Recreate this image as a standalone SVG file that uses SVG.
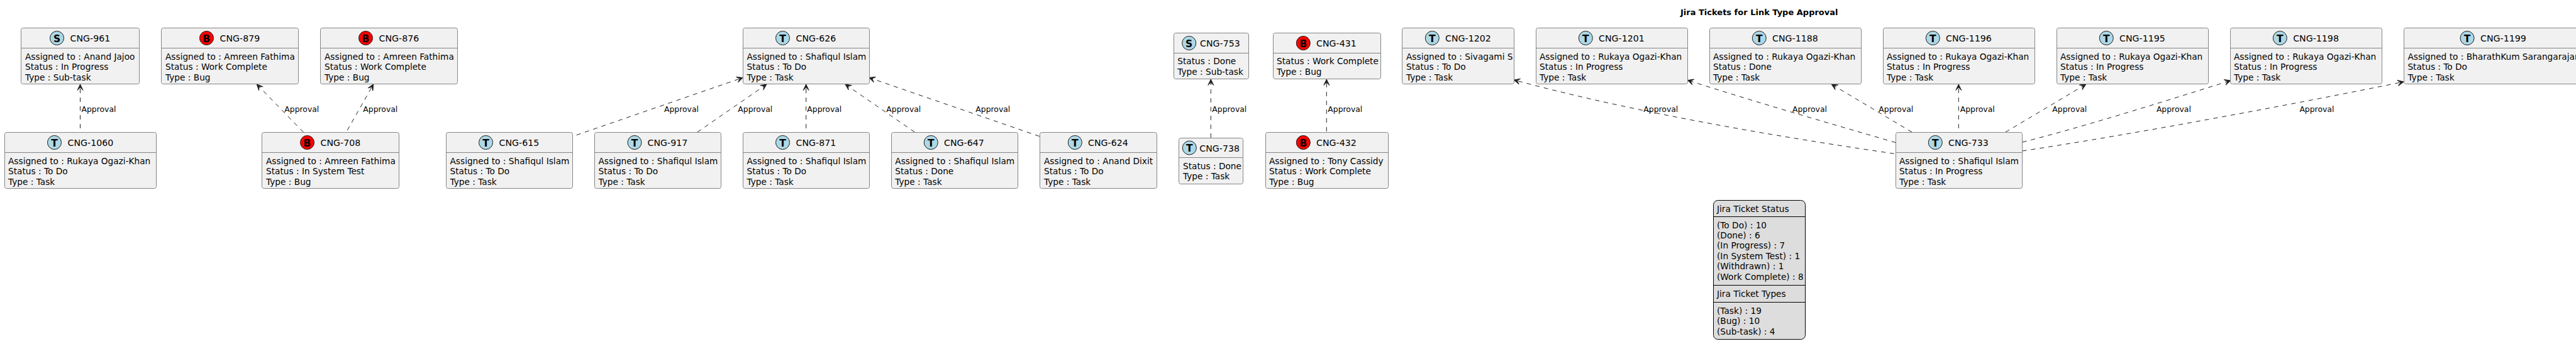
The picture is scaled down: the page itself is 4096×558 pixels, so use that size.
<svg xmlns="http://www.w3.org/2000/svg" width="4096" height="558" viewBox="0 0 4096 558">
<style>
text{font-family:"DejaVu Sans",sans-serif;fill:#000}
.b{fill:#F1F1F1;stroke:#858585;stroke-width:1}
.d{stroke:#858585;stroke-width:1}
.h{font-size:14.2px}
.t{font-size:13.7px}
.l{font-size:12.4px}
.bl{fill:#ADD8E6;stroke:#181818;stroke-width:1}
.rd{fill:#FF0000;stroke:#181818;stroke-width:1}
.g{font-size:15.5px;font-weight:bold;text-anchor:middle}
.c{fill:none;stroke:#222;stroke-width:1;stroke-dasharray:7 7;marker-end:url(#a)}
.lg{fill:#DDDDDD;stroke:#000;stroke-width:1}
.ld{stroke:#000;stroke-width:1}
</style>
<defs>
<marker id="a" markerUnits="userSpaceOnUse" markerWidth="16" markerHeight="14" refX="13" refY="7" orient="auto" overflow="visible">
<path d="M13,7 L3.5,2.5 L8,7 L3.5,11.5 Z" fill="#222" stroke="#222" stroke-width="1"/>
</marker>
</defs>
<text x="2672" y="24" font-size="13" font-weight="bold">Jira Tickets for Link Type Approval</text>
<g id="connectors">
<path class="c" d="M127.5,204 L127.5,134"/>
<path class="c" d="M482.3,210 L408.3,134"/>
<path class="c" d="M552.3,207 L593.7,134"/>
<path class="c" d="M916.7,214.7 L1181,123.5"/>
<path class="c" d="M1109,210 L1219,134"/>
<path class="c" d="M1281.7,204 L1281.7,134"/>
<path class="c" d="M1454.3,210 L1344,134"/>
<path class="c" d="M1652.7,216.7 L1382,123.5"/>
<path class="c" d="M1925.3,219 L1925.3,126"/>
<path class="c" d="M2109.3,209 L2109.3,126"/>
<path class="c" d="M3011.7,244.3 C2880,225 2620,185 2407.3,127"/>
<path class="c" d="M3014.3,226.7 C2940,205 2810,168 2683.3,127.5"/>
<path class="c" d="M3040,210 L2912.3,134"/>
<path class="c" d="M3114.3,204 L3114.3,134"/>
<path class="c" d="M3189,210 L3316.7,134"/>
<path class="c" d="M3215.7,226 C3300,205 3430,165 3546.7,128"/>
<path class="c" d="M3215.7,240 C3400,212 3650,165 3822,130"/>
<g>
<text class="l" x="129.5" y="178">Approval</text>
<text class="l" x="452.3" y="178">Approval</text>
<text class="l" x="577.3" y="178">Approval</text>
<text class="l" x="1056" y="178">Approval</text>
<text class="l" x="1173.3" y="178">Approval</text>
<text class="l" x="1283.3" y="178">Approval</text>
<text class="l" x="1409.3" y="178">Approval</text>
<text class="l" x="1551.3" y="178">Approval</text>
<text class="l" x="1927.3" y="178">Approval</text>
<text class="l" x="2111.3" y="178">Approval</text>
<text class="l" x="2613.3" y="178">Approval</text>
<text class="l" x="2850" y="178">Approval</text>
<text class="l" x="2987.3" y="178">Approval</text>
<text class="l" x="3116.7" y="178">Approval</text>
<text class="l" x="3263.3" y="178">Approval</text>
<text class="l" x="3428.9" y="178">Approval</text>
<text class="l" x="3656.4" y="178">Approval</text>
</g>
</g>
<g id="CNG-961"><rect class="b" x="33.5" y="44.5" width="188" height="89" rx="3"/><line class="d" x1="33.5" x2="221.5" y1="76.5" y2="76.5"/><circle class="bl" cx="90.5" cy="60.5" r="11"/><text class="g" x="90.5" y="66.5">S</text><text class="h" x="111.5" y="66">CNG-961</text><text class="t" x="40" y="95">Assigned to : Anand Jajoo</text><text class="t" x="40" y="111">Status : In Progress</text><text class="t" x="40" y="127.5">Type : Sub-task</text></g>
<g id="CNG-879"><rect class="b" x="256.5" y="44.5" width="218" height="89" rx="3"/><line class="d" x1="256.5" x2="474.5" y1="76.5" y2="76.5"/><circle class="rd" cx="328.5" cy="60.5" r="11"/><text class="g" x="328.5" y="66.5">B</text><text class="h" x="349.5" y="66">CNG-879</text><text class="t" x="263" y="95">Assigned to : Amreen Fathima</text><text class="t" x="263" y="111">Status : Work Complete</text><text class="t" x="263" y="127.5">Type : Bug</text></g>
<g id="CNG-876"><rect class="b" x="509.5" y="44.5" width="218" height="89" rx="3"/><line class="d" x1="509.5" x2="727.5" y1="76.5" y2="76.5"/><circle class="rd" cx="581.5" cy="60.5" r="11"/><text class="g" x="581.5" y="66.5">B</text><text class="h" x="602.5" y="66">CNG-876</text><text class="t" x="516" y="95">Assigned to : Amreen Fathima</text><text class="t" x="516" y="111">Status : Work Complete</text><text class="t" x="516" y="127.5">Type : Bug</text></g>
<g id="CNG-626"><rect class="b" x="1181.5" y="44.5" width="201" height="89" rx="3"/><line class="d" x1="1181.5" x2="1382.5" y1="76.5" y2="76.5"/><circle class="bl" cx="1244.5" cy="60.5" r="11"/><text class="g" x="1244.5" y="66.5">T</text><text class="h" x="1265.5" y="66">CNG-626</text><text class="t" x="1187.5" y="95">Assigned to : Shafiqul Islam</text><text class="t" x="1187.5" y="111">Status : To Do</text><text class="t" x="1187.5" y="127.5">Type : Task</text></g>
<g id="CNG-753"><rect class="b" x="1866.5" y="52.5" width="119" height="73" rx="3"/><line class="d" x1="1866.5" x2="1985.5" y1="84.5" y2="84.5"/><circle class="bl" cx="1890.7" cy="68.5" r="11"/><text class="g" x="1890.7" y="74.5">S</text><text class="h" x="1908" y="74">CNG-753</text><text class="t" x="1872.3" y="102">Status : Done</text><text class="t" x="1872.3" y="119">Type : Sub-task</text></g>
<g id="CNG-431"><rect class="b" x="2024.5" y="52.5" width="171" height="73" rx="3"/><line class="d" x1="2024.5" x2="2195.5" y1="84.5" y2="84.5"/><circle class="rd" cx="2072.3" cy="68.5" r="11"/><text class="g" x="2072.3" y="74.5">B</text><text class="h" x="2093" y="74">CNG-431</text><text class="t" x="2030" y="102">Status : Work Complete</text><text class="t" x="2030" y="119">Type : Bug</text></g>
<g id="CNG-1202"><rect class="b" x="2229.5" y="44.5" width="178" height="89" rx="3"/><line class="d" x1="2229.5" x2="2407.5" y1="76.5" y2="76.5"/><circle class="bl" cx="2277.3" cy="60.5" r="11"/><text class="g" x="2277.3" y="66.5">T</text><text class="h" x="2298" y="66">CNG-1202</text><text class="t" x="2236" y="95">Assigned to : Sivagami S</text><text class="t" x="2236" y="111">Status : To Do</text><text class="t" x="2236" y="127.5">Type : Task</text></g>
<g id="CNG-1201"><rect class="b" x="2442.5" y="44.5" width="241" height="89" rx="3"/><line class="d" x1="2442.5" x2="2683.5" y1="76.5" y2="76.5"/><circle class="bl" cx="2521.3" cy="60.5" r="11"/><text class="g" x="2521.3" y="66.5">T</text><text class="h" x="2542" y="66">CNG-1201</text><text class="t" x="2448" y="95">Assigned to : Rukaya Ogazi-Khan</text><text class="t" x="2448" y="111">Status : In Progress</text><text class="t" x="2448" y="127.5">Type : Task</text></g>
<g id="CNG-1188"><rect class="b" x="2718.5" y="44.5" width="241" height="89" rx="3"/><line class="d" x1="2718.5" x2="2959.5" y1="76.5" y2="76.5"/><circle class="bl" cx="2797.3" cy="60.5" r="11"/><text class="g" x="2797.3" y="66.5">T</text><text class="h" x="2818" y="66">CNG-1188</text><text class="t" x="2724" y="95">Assigned to : Rukaya Ogazi-Khan</text><text class="t" x="2724" y="111">Status : Done</text><text class="t" x="2724" y="127.5">Type : Task</text></g>
<g id="CNG-1196"><rect class="b" x="2994.5" y="44.5" width="241" height="89" rx="3"/><line class="d" x1="2994.5" x2="3235.5" y1="76.5" y2="76.5"/><circle class="bl" cx="3073.3" cy="60.5" r="11"/><text class="g" x="3073.3" y="66.5">T</text><text class="h" x="3094" y="66">CNG-1196</text><text class="t" x="3000" y="95">Assigned to : Rukaya Ogazi-Khan</text><text class="t" x="3000" y="111">Status : In Progress</text><text class="t" x="3000" y="127.5">Type : Task</text></g>
<g id="CNG-1195"><rect class="b" x="3270.5" y="44.5" width="241" height="89" rx="3"/><line class="d" x1="3270.5" x2="3511.5" y1="76.5" y2="76.5"/><circle class="bl" cx="3349.3" cy="60.5" r="11"/><text class="g" x="3349.3" y="66.5">T</text><text class="h" x="3370" y="66">CNG-1195</text><text class="t" x="3276" y="95">Assigned to : Rukaya Ogazi-Khan</text><text class="t" x="3276" y="111">Status : In Progress</text><text class="t" x="3276" y="127.5">Type : Task</text></g>
<g id="CNG-1198"><rect class="b" x="3546.5" y="44.5" width="241" height="89" rx="3"/><line class="d" x1="3546.5" x2="3787.5" y1="76.5" y2="76.5"/><circle class="bl" cx="3625.3" cy="60.5" r="11"/><text class="g" x="3625.3" y="66.5">T</text><text class="h" x="3646.2" y="66">CNG-1198</text><text class="t" x="3552" y="95">Assigned to : Rukaya Ogazi-Khan</text><text class="t" x="3552" y="111">Status : In Progress</text><text class="t" x="3552" y="127.5">Type : Task</text></g>
<g id="CNG-1199"><rect class="b" x="3822.5" y="44.5" width="285" height="89" rx="3"/><line class="d" x1="3822.5" x2="4107.5" y1="76.5" y2="76.5"/><circle class="bl" cx="3923" cy="60.5" r="11"/><text class="g" x="3923" y="66.5">T</text><text class="h" x="3944" y="66">CNG-1199</text><text class="t" x="3828.4" y="95">Assigned to : BharathKum Sarangarajan</text><text class="t" x="3828.4" y="111">Status : To Do</text><text class="t" x="3828.4" y="127.5">Type : Task</text></g>
<g id="CNG-1060"><rect class="b" x="7.5" y="210.5" width="241" height="89" rx="3"/><line class="d" x1="7.5" x2="248.5" y1="242.5" y2="242.5"/><circle class="bl" cx="86.5" cy="226.5" r="11"/><text class="g" x="86.5" y="232.5">T</text><text class="h" x="107.5" y="232">CNG-1060</text><text class="t" x="13" y="261">Assigned to : Rukaya Ogazi-Khan</text><text class="t" x="13" y="277">Status : To Do</text><text class="t" x="13" y="293.5">Type : Task</text></g>
<g id="CNG-708"><rect class="b" x="416.5" y="210.5" width="218" height="89" rx="3"/><line class="d" x1="416.5" x2="634.5" y1="242.5" y2="242.5"/><circle class="rd" cx="488.5" cy="226.5" r="11"/><text class="g" x="488.5" y="232.5">B</text><text class="h" x="509.5" y="232">CNG-708</text><text class="t" x="423" y="261">Assigned to : Amreen Fathima</text><text class="t" x="423" y="277">Status : In System Test</text><text class="t" x="423" y="293.5">Type : Bug</text></g>
<g id="CNG-615"><rect class="b" x="709.5" y="210.5" width="201" height="89" rx="3"/><line class="d" x1="709.5" x2="910.5" y1="242.5" y2="242.5"/><circle class="bl" cx="772.5" cy="226.5" r="11"/><text class="g" x="772.5" y="232.5">T</text><text class="h" x="793.5" y="232">CNG-615</text><text class="t" x="715.5" y="261">Assigned to : Shafiqul Islam</text><text class="t" x="715.5" y="277">Status : To Do</text><text class="t" x="715.5" y="293.5">Type : Task</text></g>
<g id="CNG-917"><rect class="b" x="945.5" y="210.5" width="201" height="89" rx="3"/><line class="d" x1="945.5" x2="1146.5" y1="242.5" y2="242.5"/><circle class="bl" cx="1009" cy="226.5" r="11"/><text class="g" x="1009" y="232.5">T</text><text class="h" x="1029.5" y="232">CNG-917</text><text class="t" x="951.5" y="261">Assigned to : Shafiqul Islam</text><text class="t" x="951.5" y="277">Status : To Do</text><text class="t" x="951.5" y="293.5">Type : Task</text></g>
<g id="CNG-871"><rect class="b" x="1181.5" y="210.5" width="201" height="89" rx="3"/><line class="d" x1="1181.5" x2="1382.5" y1="242.5" y2="242.5"/><circle class="bl" cx="1244.5" cy="226.5" r="11"/><text class="g" x="1244.5" y="232.5">T</text><text class="h" x="1265.5" y="232">CNG-871</text><text class="t" x="1187.5" y="261">Assigned to : Shafiqul Islam</text><text class="t" x="1187.5" y="277">Status : To Do</text><text class="t" x="1187.5" y="293.5">Type : Task</text></g>
<g id="CNG-647"><rect class="b" x="1417.5" y="210.5" width="201" height="89" rx="3"/><line class="d" x1="1417.5" x2="1618.5" y1="242.5" y2="242.5"/><circle class="bl" cx="1480.3" cy="226.5" r="11"/><text class="g" x="1480.3" y="232.5">T</text><text class="h" x="1501" y="232">CNG-647</text><text class="t" x="1423.3" y="261">Assigned to : Shafiqul Islam</text><text class="t" x="1423.3" y="277">Status : Done</text><text class="t" x="1423.3" y="293.5">Type : Task</text></g>
<g id="CNG-624"><rect class="b" x="1653.5" y="210.5" width="186" height="89" rx="3"/><line class="d" x1="1653.5" x2="1839.5" y1="242.5" y2="242.5"/><circle class="bl" cx="1709.3" cy="226.5" r="11"/><text class="g" x="1709.3" y="232.5">T</text><text class="h" x="1730" y="232">CNG-624</text><text class="t" x="1660" y="261">Assigned to : Anand Dixit</text><text class="t" x="1660" y="277">Status : To Do</text><text class="t" x="1660" y="293.5">Type : Task</text></g>
<g id="CNG-738"><rect class="b" x="1874.5" y="219.5" width="102" height="73" rx="3"/><line class="d" x1="1874.5" x2="1976.5" y1="250.5" y2="250.5"/><circle class="bl" cx="1891.3" cy="235" r="11"/><text class="g" x="1891.3" y="241">T</text><text class="h" x="1907.3" y="240.5">CNG-738</text><text class="t" x="1881" y="268.5">Status : Done</text><text class="t" x="1881" y="285">Type : Task</text></g>
<g id="CNG-432"><rect class="b" x="2012.5" y="210.5" width="195" height="89" rx="3"/><line class="d" x1="2012.5" x2="2207.5" y1="242.5" y2="242.5"/><circle class="rd" cx="2072.3" cy="226.5" r="11"/><text class="g" x="2072.3" y="232.5">B</text><text class="h" x="2093" y="232">CNG-432</text><text class="t" x="2018" y="261">Assigned to : Tony Cassidy</text><text class="t" x="2018" y="277">Status : Work Complete</text><text class="t" x="2018" y="293.5">Type : Bug</text></g>
<g id="CNG-733"><rect class="b" x="3014.5" y="210.5" width="201" height="89" rx="3"/><line class="d" x1="3014.5" x2="3215.5" y1="242.5" y2="242.5"/><circle class="bl" cx="3077.3" cy="226.5" r="11"/><text class="g" x="3077.3" y="232.5">T</text><text class="h" x="3098" y="232">CNG-733</text><text class="t" x="3020" y="261">Assigned to : Shafiqul Islam</text><text class="t" x="3020" y="277">Status : In Progress</text><text class="t" x="3020" y="293.5">Type : Task</text></g>
<g id="legend"><rect class="lg" x="2724.5" y="318.5" width="146" height="221" rx="7"/><line class="ld" x1="2724.5" x2="2870.5" y1="344.5" y2="344.5"/><line class="ld" x1="2724.5" x2="2870.5" y1="453.5" y2="453.5"/><line class="ld" x1="2724.5" x2="2870.5" y1="480.5" y2="480.5"/>
<text class="t" x="2730" y="336.5">Jira Ticket Status</text>
<text class="t" x="2730" y="362.5">(To Do) : 10</text>
<text class="t" x="2730" y="379">(Done) : 6</text>
<text class="t" x="2730" y="395">(In Progress) : 7</text>
<text class="t" x="2730" y="412">(In System Test) : 1</text>
<text class="t" x="2730" y="428">(Withdrawn) : 1</text>
<text class="t" x="2730" y="445">(Work Complete) : 8</text>
<text class="t" x="2730" y="471.5">Jira Ticket Types</text>
<text class="t" x="2730" y="498.5">(Task) : 19</text>
<text class="t" x="2730" y="515">(Bug) : 10</text>
<text class="t" x="2730" y="531.5">(Sub-task) : 4</text>
</g>
</svg>
